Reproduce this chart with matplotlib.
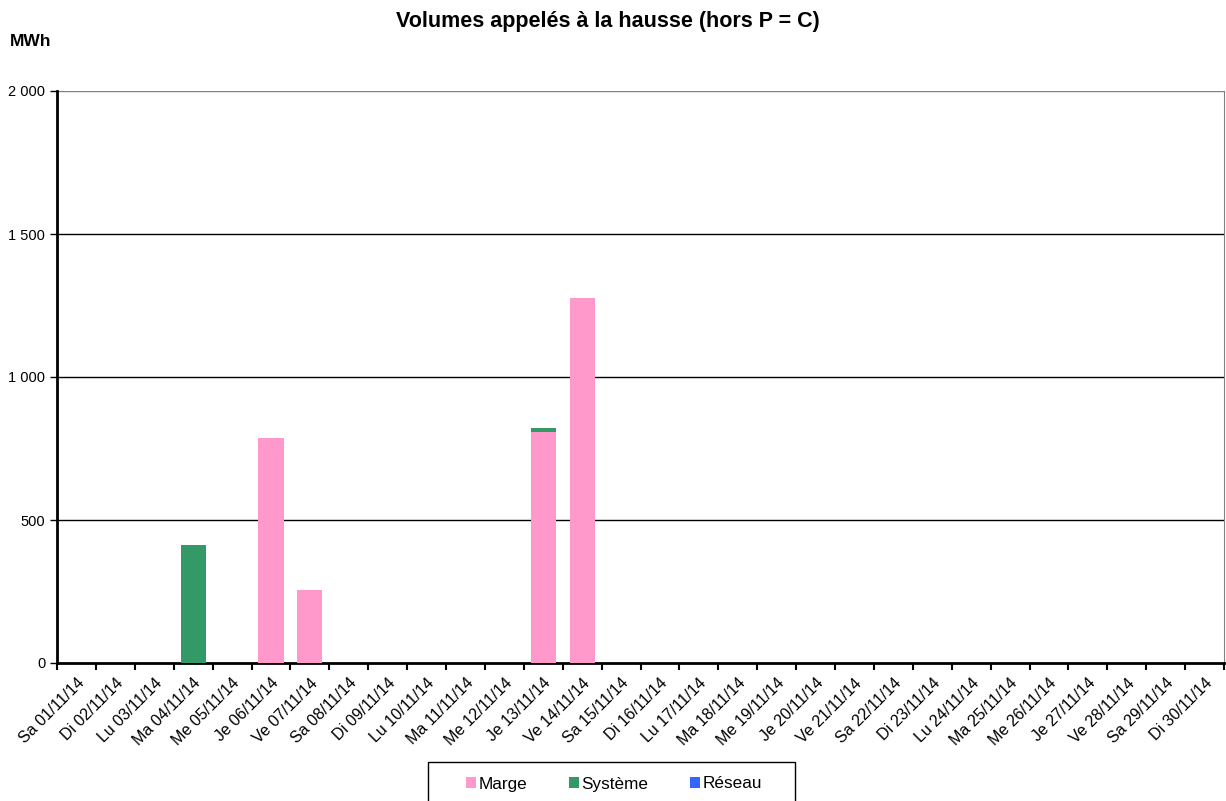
import matplotlib
matplotlib.use("Agg")
import matplotlib.pyplot as plt
from matplotlib.patches import Rectangle
import numpy as np

# categories (days of November 2014)
days = ["Sa", "Di", "Lu", "Ma", "Me", "Je", "Ve"]
labels = [days[i % 7] + " %02d/11/14" % (i + 1) for i in range(30)]

marge = [0, 0, 0, 0, 0, 787, 255, 0, 0, 0, 0, 0, 808, 1276, 0,
         0, 0, 0, 0, 0, 0, 0, 0, 0, 0, 0, 0, 0, 0, 0]
systeme = [0, 0, 0, 413, 0, 0, 0, 0, 0, 0, 0, 0, 14, 0, 0,
           0, 0, 0, 0, 0, 0, 0, 0, 0, 0, 0, 0, 0, 0, 0]
reseau = [0] * 30

yticks = [0, 500, 1000, 1500, 2000]
ytick_labels = ["0", "500", "1 000", "1 500", "2 000"]

plt.rcParams['font.family'] = ['Liberation Sans', 'DejaVu Sans']

fig = plt.figure(figsize=(12.26, 8.01), dpi=100)
ax = fig.add_axes([57 / 1226, 1 - 663 / 801, 1167 / 1226, 572 / 801])

x = np.arange(len(labels))
w = 0.65
ax.bar(x, marge, w, color="#FF99CC", label="Marge", zorder=3)
ax.bar(x, systeme, w, bottom=marge, color="#339966", label="Système", zorder=3)
bot2 = np.array(marge) + np.array(systeme)
ax.bar(x, reseau, w, bottom=bot2, color="#3366FF", label="Réseau", zorder=3)

ax.set_xlim(-0.5, len(labels) - 0.5)
ax.set_ylim(0, 2000)
ax.set_yticks(yticks)
ax.set_yticklabels(ytick_labels, fontsize=10.5)
for v in yticks[1:-1]:
    ax.axhline(v, color="black", lw=1, zorder=1)
ax.axhline(2000, color="#808080", lw=1, zorder=1)

# category boundary ticks
ax.set_xticks(np.arange(len(labels) + 1) - 0.5)
ax.set_xticklabels([])
ax.set_xticks(x, minor=True)
ax.set_xticklabels(labels, minor=True, rotation=45, ha="right",
                   rotation_mode="anchor", fontsize=11.5)
ax.tick_params(axis="x", which="minor", length=0, pad=9)
ax.tick_params(axis="x", which="major", length=5, width=1.5, direction="out")
ax.tick_params(axis="y", length=5, width=1, direction="out")

ax.spines["left"].set_linewidth(2)
ax.spines["bottom"].set_linewidth(2)
ax.spines["top"].set_visible(False)
ax.spines["right"].set_color("#808080")

fig.text(608 / 1226, 1 - 21 / 801, "Volumes appelés à la hausse (hors P = C)",
         ha="center", va="center", fontsize=15.5, fontweight="bold")
fig.text(10 / 1226, 1 - 41 / 801, "MWh", ha="left", va="center",
         fontsize=12.5, fontweight="bold")

# legend box (runs off the bottom edge like the original)
fig.patches.append(Rectangle((428 / 1226, -0.02), 367 / 1226, (801 - 762) / 801 + 0.02,
                             transform=fig.transFigure, fill=False,
                             edgecolor="black", lw=1))
leg = fig.legend(loc="center", bbox_to_anchor=(614 / 1226, 1 - 784 / 801),
                 ncol=3, frameon=False, fontsize=12.3, handlelength=0.6,
                 handleheight=0.6, handletextpad=0.15, columnspacing=2.4)

fig.savefig("out.png", dpi=100)
